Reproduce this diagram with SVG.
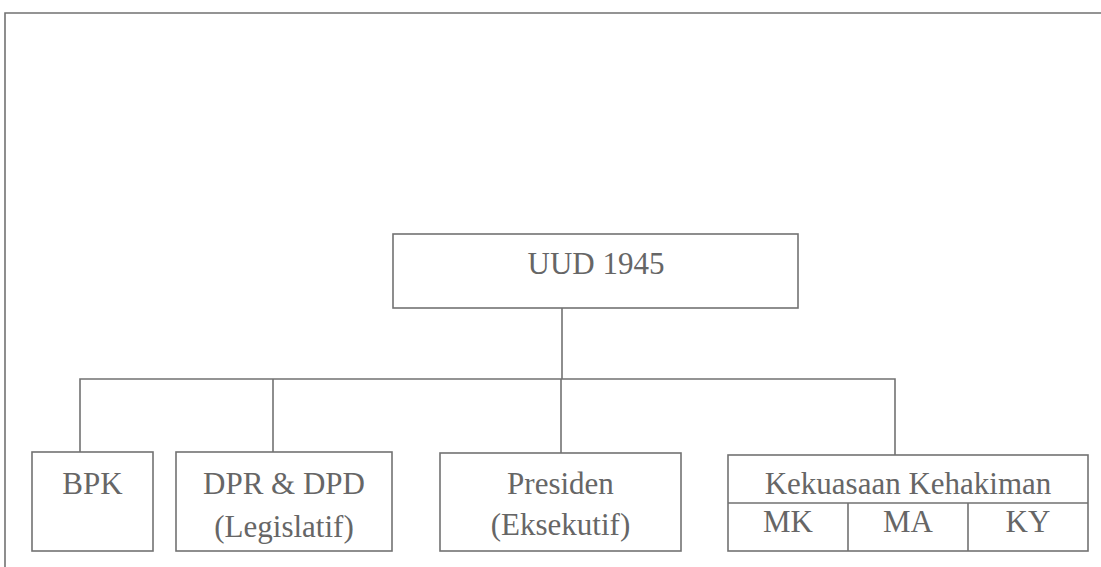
<svg xmlns="http://www.w3.org/2000/svg" width="1101" height="567" viewBox="0 0 1101 567">
<style>
.box{fill:none;stroke:#727272;stroke-width:1.6}
.ln{fill:none;stroke:#727272;stroke-width:1.6}
.t{font-size:31px;fill:#666;text-anchor:middle}
</style>
<rect width="1101" height="567" fill="#fff"/>
<path class="ln" d="M5,567 V13 H1101"/>
<g id="connectors">
<path class="ln" d="M562,308 V379"/>
<path class="ln" d="M80,452 V379 H895 V455"/>
<path class="ln" d="M273,379 V452"/>
<path class="ln" d="M561,379 V453"/>
</g>
<g font-family="Liberation Serif, Times New Roman, serif">
<g id="uud">
<rect class="box" x="393" y="234" width="405" height="74"/>
<text class="t" x="596" y="274">UUD 1945</text>
</g>
<g id="bpk">
<rect class="box" x="32" y="452" width="121" height="99"/>
<text class="t" x="92.5" y="494">BPK</text>
</g>
<g id="dpr">
<rect class="box" x="176" y="452" width="216" height="99"/>
<text class="t" x="284" y="494">DPR &amp; DPD</text>
<text class="t" x="284" y="537">(Legislatif)</text>
</g>
<g id="presiden">
<rect class="box" x="440" y="453" width="241" height="98"/>
<text class="t" x="560.5" y="494">Presiden</text>
<text class="t" x="560.5" y="535">(Eksekutif)</text>
</g>
<g id="kehakiman">
<rect class="box" x="728" y="455" width="360" height="96"/>
<path class="ln" d="M728,503 H1088 M848,503 V551 M968,503 V551"/>
<text class="t" x="908" y="494">Kekuasaan Kehakiman</text>
<text class="t" x="788" y="532">MK</text>
<text class="t" x="908" y="532">MA</text>
<text class="t" x="1028" y="532">KY</text>
</g>
</g>
</svg>
